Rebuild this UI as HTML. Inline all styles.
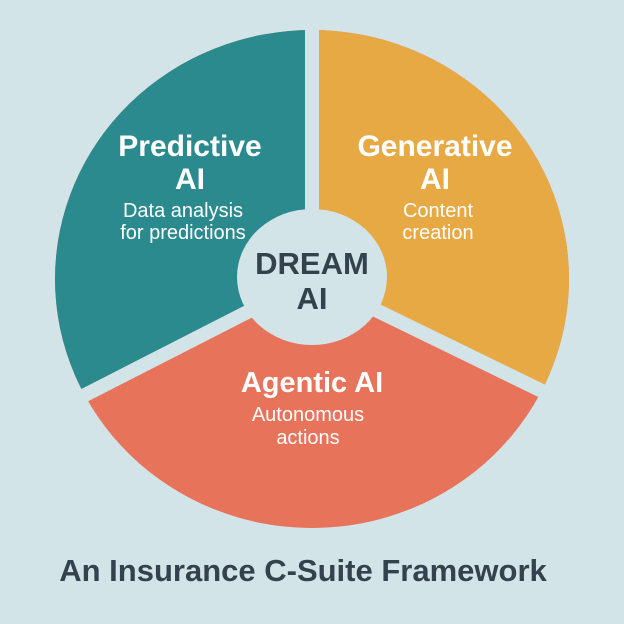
<!DOCTYPE html>
<html><head><style>
html,body{margin:0;padding:0;background:#d3e4e8;}
svg{display:block;}
text{font-family:"Liberation Sans",sans-serif;text-anchor:middle;}
</style></head><body>
<svg width="624" height="624" viewBox="0 0 624 624">
<rect width="624" height="624" fill="#d3e4e8"/>
<defs><clipPath id="c"><ellipse cx="312" cy="279" rx="257" ry="249"/></clipPath></defs>
<g clip-path="url(#c)">
<rect width="624" height="624" fill="#e8735b"/>
<polygon points="312,279 312,-200 -300,-200 -300,511 -142,511" fill="#2b8a8e"/>
<polygon points="312,279 312,-200 900,-200 900,501 768,501" fill="#e7a943"/>
</g>
<g stroke="#d3e4e8" stroke-width="14">
<line x1="312" y1="279" x2="312" y2="0"/>
<line x1="312" y1="279" x2="-142" y2="511"/>
<line x1="312" y1="279" x2="768" y2="501"/>
</g>
<ellipse cx="312" cy="277" rx="75" ry="68" fill="#d3e4e8"/>
<g fill="#fff">
<text x="190" y="156" font-size="30" font-weight="bold">Predictive</text>
<text x="190" y="189" font-size="30" font-weight="bold">AI</text>
<text x="183" y="217" font-size="20">Data analysis</text>
<text x="183" y="239" font-size="20">for predictions</text>
<text x="435" y="156" font-size="30" font-weight="bold">Generative</text>
<text x="435" y="189" font-size="30" font-weight="bold">AI</text>
<text x="438" y="217" font-size="20">Content</text>
<text x="438" y="239" font-size="20">creation</text>
<text x="312" y="392" font-size="29" font-weight="bold">Agentic AI</text>
<text x="308" y="421" font-size="20">Autonomous</text>
<text x="308" y="444" font-size="20">actions</text>
</g>
<g fill="#33424d" font-weight="bold">
<text x="312" y="274" font-size="31">DREAM</text>
<text x="312" y="309" font-size="31">AI</text>
<text x="303" y="581" font-size="31">An Insurance C-Suite Framework</text>
</g>
</svg>
</body></html>
